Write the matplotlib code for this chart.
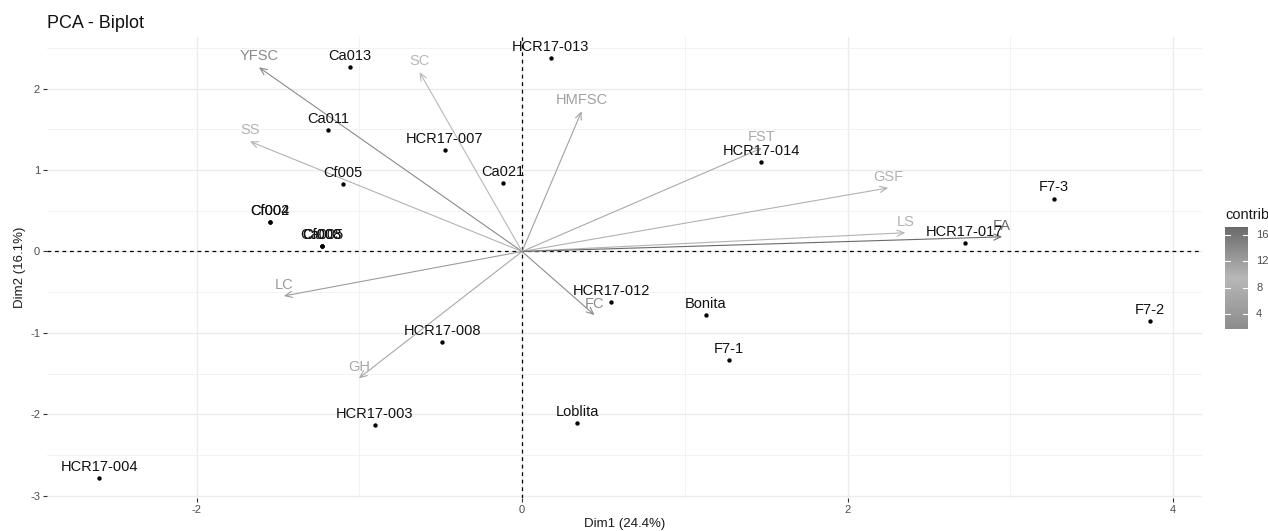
import matplotlib
matplotlib.use("Agg")
import matplotlib.pyplot as plt
import numpy as np
from matplotlib.colors import LinearSegmentedColormap, Normalize

plt.rcParams['font.family'] = ['Liberation Sans', 'DejaVu Sans']
plt.rcParams['axes.unicode_minus'] = False

# Individuals (Dim1, Dim2)
ind_names = ["HCR17-013", "Ca013", "Ca011", "HCR17-007", "Cf005", "Ca021",
             "HCR17-014", "F7-3", "Cf002", "Cf004", "Ca005", "Cf003", "Cf008",
             "HCR17-017", "HCR17-012", "Bonita", "F7-2", "F7-1", "HCR17-008",
             "HCR17-003", "Loblita", "HCR17-004"]
ind_x = [0.175, -1.06, -1.19, -0.476, -1.10, -0.12,
         1.47, 3.27, -1.548, -1.548, -1.23, -1.23, -1.23,
         2.72, 0.547, 1.13, 3.86, 1.27, -0.49,
         -0.906, 0.34, -2.597]
ind_y = [2.37, 2.26, 1.49, 1.25, 0.83, 0.84,
         1.10, 0.65, 0.366, 0.366, 0.07, 0.07, 0.07,
         0.10, -0.623, -0.78, -0.85, -1.33, -1.107,
         -2.125, -2.10, -2.775]

# Variables (arrow tips) and contributions
var_names = ["YFSC", "SS", "SC", "HMFSC", "FST", "GSF", "LS", "FA", "LC", "GH", "FC"]
var_x = [-1.617, -1.672, -0.63, 0.366, 1.475, 2.25, 2.355, 2.95, -1.464, -1.003, 0.445]
var_y = [2.26, 1.35, 2.20, 1.72, 1.27, 0.78, 0.23, 0.18, -0.546, -1.556, -0.78]
var_contrib = [14.0, 8.5, 9.5, 5.5, 7.0, 10.0, 10.0, 17.2, 4.5, 6.5, 1.7]

cbar_ticks = [4, 8, 12, 16]

W, H = 1268, 531
fig = plt.figure(figsize=(W / 100, H / 100), dpi=100)
ax = fig.add_axes([47 / W, 1 - 498 / H, (1202 - 47) / W, (498 - 37) / H])
ax.set_xlim(-2.919, 4.178)
ax.set_ylim(-3.025, 2.632)

# grid
for xv in [-2, 0, 2, 4]:
    ax.axvline(xv, color='#ebebeb', lw=1.0, zorder=0)
for xv in [-1, 1, 3]:
    ax.axvline(xv, color='#f2f2f2', lw=0.7, zorder=0)
for yv in [-3, -2, -1, 0, 1, 2]:
    ax.axhline(yv, color='#ebebeb', lw=1.0, zorder=0)
for yv in [-2.5, -1.5, -0.5, 0.5, 1.5, 2.5]:
    ax.axhline(yv, color='#f2f2f2', lw=0.7, zorder=0)

ax.axhline(0, color='black', lw=0.9, ls=(0, (3, 3)), zorder=1)
ax.axvline(0, color='black', lw=0.9, ls=(0, (3, 3)), zorder=1)

for s in ax.spines.values():
    s.set_visible(False)
ax.set_xticks([-2, 0, 2, 4])
ax.set_yticks([-3, -2, -1, 0, 1, 2])
ax.tick_params(length=3, width=0.8, color='#333333', labelcolor='#4d4d4d',
               labelsize=8, pad=2)
ax.set_xlabel("Dim1 (24.4%)", fontsize=9.5, color='#1a1a1a', labelpad=2)
ax.set_ylabel("Dim2 (16.1%)", fontsize=9.5, color='#1a1a1a', labelpad=3)

cmap = LinearSegmentedColormap.from_list('c', ['#8c8c8c', '#b8b8b8', '#6a6a6a'])
norm = Normalize(vmin=min(var_contrib), vmax=max(var_contrib))

# arrows
for n, x, y, c in zip(var_names, var_x, var_y, var_contrib):
    col = cmap(norm(c))
    ax.annotate('', xy=(x, y), xytext=(0, 0),
                arrowprops=dict(arrowstyle='->,head_length=0.5,head_width=0.22',
                                color=col, lw=0.8, shrinkA=0, shrinkB=0), zorder=2)
    ax.annotate(n, (x, y), xytext=(0, 8), textcoords='offset points',
                ha='center', va='center', fontsize=10.5, color=col, zorder=3)

# individuals
ax.scatter(ind_x, ind_y, s=10, color='black', zorder=4, linewidths=0)
for n, x, y in zip(ind_names, ind_x, ind_y):
    ax.annotate(n, (x, y), xytext=(0, 8), textcoords='offset points',
                ha='center', va='center', fontsize=10.5, color='#111111', zorder=5)

fig.text(47 / W, 1 - 23 / H, "PCA - Biplot", fontsize=13, color='#111111',
         ha='left', va='center')

# colorbar
cax = fig.add_axes([1225 / W, 1 - 329 / H, 23 / W, 102 / H])
grad = np.linspace(norm.vmin, norm.vmax, 256).reshape(-1, 1)
cax.imshow(grad, aspect='auto', cmap=cmap, norm=norm, origin='lower',
           extent=[0, 1, norm.vmin, norm.vmax])
cax.set_xlim(0, 1)
cax.set_ylim(norm.vmin, norm.vmax)
cax.set_xticks([])
cax.set_yticks([])
for s in cax.spines.values():
    s.set_visible(False)
for t in cbar_ticks:
    cax.plot([0, 0.2], [t, t], color='white', lw=0.8)
    cax.plot([0.8, 1], [t, t], color='white', lw=0.8)
    cax.text(1.35, t, str(t), fontsize=8, color='#4d4d4d', va='center', ha='left',
             transform=cax.get_yaxis_transform(), clip_on=False)
fig.text(1225 / W, 1 - 215 / H, "contrib", fontsize=10.5, color='#1a1a1a',
         ha='left', va='center')

fig.savefig("out.png", dpi=100)
